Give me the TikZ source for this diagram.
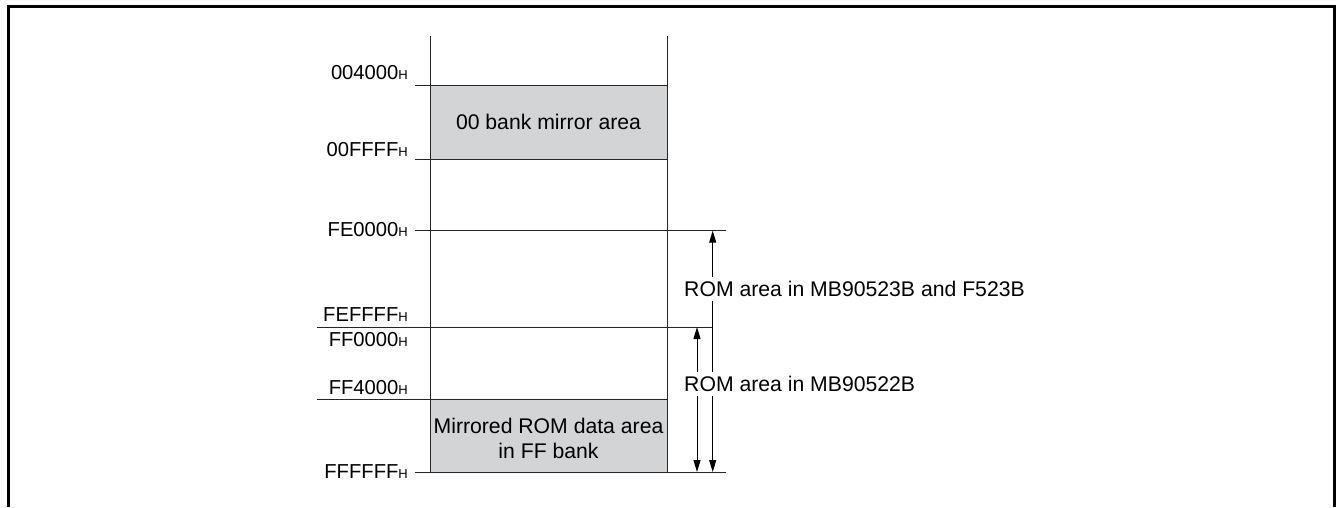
\documentclass[tikz,border=0pt]{standalone}
\usepackage{fontspec}
\setmainfont{Liberation Sans}
\usetikzlibrary{arrows.meta}
\definecolor{areagray}{RGB}{211,212,214}
\newcommand{\addrH}{{\fontsize{13}{13}\selectfont H}}
\tikzset{
  thin line/.style={line width=1pt, draw=black!85},
  frame line/.style={line width=2.6pt, draw=black},
  addr/.style={anchor=base east, inner sep=0pt, font=\fontsize{20.2}{20}\selectfont},
  romlabel/.style={anchor=base west, fill=white, inner xsep=1pt, inner ysep=4pt, font=\fontsize{21.2}{22}\selectfont},
  arealabel/.style={align=center, inner sep=0pt, font=\fontsize{21.2}{25}\selectfont},
  dimarrow/.style={line width=1pt, {Triangle[length=12pt,width=7pt]}-{Triangle[length=12pt,width=7pt]}}
}
\begin{document}
\begin{tikzpicture}[x=1pt,y=-1pt]
\useasboundingbox (0,0) rectangle (1340,507);
% frame
\draw[frame line] (8.7,507) -- (8.7,6.2) -- (1334.7,6.2) -- (1334.7,507);
% gray areas
\fill[areagray] (430,85) rectangle (667,159);
\fill[areagray] (430,399) rectangle (667,472);
% column verticals
\coordinate (colTL) at (430,36);
\coordinate (colBL) at (430,472);
\coordinate (colTR) at (667,36);
\coordinate (colBR) at (667,472);
\draw[thin line] (colTL) -- (colBL);
\draw[thin line] (colTR) -- (colBR);
% horizontal lines
\draw[thin line] (415,85) -- (667,85);
\draw[thin line] (415,159) -- (667,159);
\draw[thin line] (415,230.7) -- (726,230.7);
\draw[thin line] (317,327) -- (712.7,327);
\draw[thin line] (317,399) -- (667,399);
\draw[thin line] (415,472) -- (726,472);
% address labels
\node[addr] (a1) at (408,79) {004000\addrH};
\node[addr] (a2) at (408,156.7) {00FFFF\addrH};
\node[addr] (a3) at (408,236.3) {FE0000\addrH};
\node[addr] (a4) at (408,321.7) {FEFFFF\addrH};
\node[addr] (a5) at (408,346.7) {FF0000\addrH};
\node[addr] (a6) at (408,394) {FF4000\addrH};
\node[addr] (a7) at (408,478) {FFFFFF\addrH};
% area labels
\node[arealabel] (m1) at (548.5,122) {00 bank mirror area};
\node[arealabel, anchor=base] (m2) at (548.5,458.3) {Mirrored ROM data area\\in FF bank};
% dimension arrows
\coordinate (o1) at (712.7,230.7);
\coordinate (o2) at (712.7,472);
\coordinate (i1) at (697,327);
\coordinate (i2) at (697,472);
\draw[dimarrow] (o1) -- (o2);
\draw[dimarrow] (i1) -- (i2);
\node[romlabel] (r1) at (683,296.5) {ROM area in MB90523B and F523B};
\node[romlabel] (r2) at (683,391.3) {ROM area in MB90522B};
\end{tikzpicture}
\end{document}
